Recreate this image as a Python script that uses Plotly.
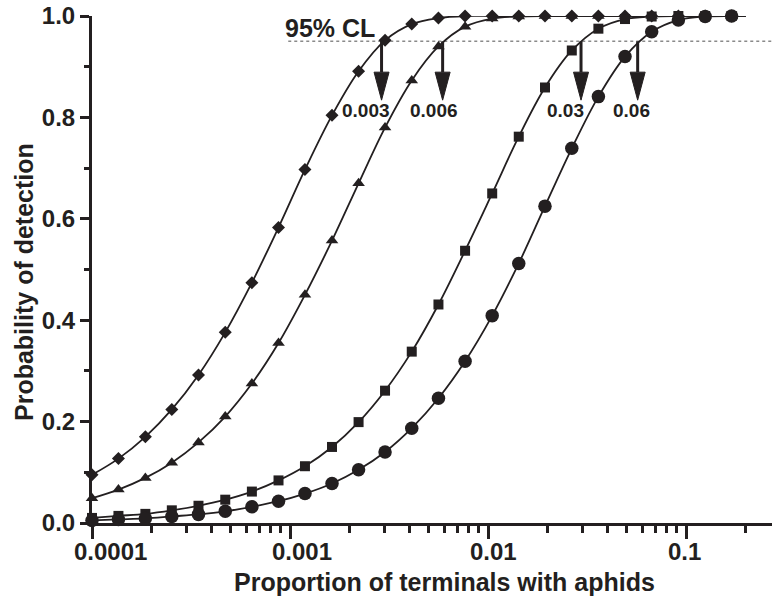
import numpy as np
import plotly.graph_objects as go

# ---------------- data ----------------
x_prop = [0.0001, 0.000136, 0.000186, 0.000253, 0.000345, 0.000471, 0.000642,
          0.000875, 0.00119, 0.00163, 0.00222, 0.00302, 0.00412, 0.00562,
          0.00766, 0.0105, 0.0143, 0.0194, 0.0265, 0.0361, 0.0492, 0.0671,
          0.0915, 0.125, 0.170]

diamond_y = [0.095, 0.127, 0.170, 0.224, 0.292, 0.376, 0.474, 0.583, 0.697,
             0.804, 0.891, 0.952, 0.984, 0.996, 1.0, 1.0, 1.0, 1.0, 1.0, 1.0,
             1.0, 1.0, 1.0, 1.0, 1.0]
triangle_y = [0.049, 0.066, 0.089, 0.119, 0.159, 0.210, 0.275, 0.355, 0.450,
              0.557, 0.670, 0.780, 0.873, 0.940, 0.979, 0.995, 0.999, 1.0, 1.0,
              1.0, 1.0, 1.0, 1.0, 1.0, 1.0]
square_y = [0.010, 0.014, 0.018, 0.025, 0.034, 0.046, 0.062, 0.084, 0.112,
            0.150, 0.199, 0.261, 0.338, 0.431, 0.537, 0.650, 0.762, 0.859,
            0.932, 0.975, 0.994, 0.999, 1.0, 1.0, 1.0]
circle_y = [0.005, 0.007, 0.009, 0.013, 0.017, 0.023, 0.032, 0.043, 0.058,
            0.078, 0.105, 0.140, 0.187, 0.246, 0.319, 0.409, 0.512, 0.625,
            0.739, 0.841, 0.920, 0.969, 0.992, 0.999, 1.0]

curve_end_x = 0.2
curve_end_y = 1.0

cl_level = 0.95
cl_label = "95% CL"
cl_line_start = 0.00098
cl_label_x = 0.00275
cl_label_y = 0.976

arrow_x = [0.0029, 0.0059, 0.0295, 0.057]
arrow_tip_y = 0.834
arrow_labels = ["0.003", "0.006", "0.03", "0.06"]
arrow_label_x = [0.00242, 0.00533, 0.0245, 0.0533]
arrow_label_y = 0.813

x_tick_vals = [0.0001, 0.001, 0.01, 0.1]
x_tick_text = ["0.0001", "0.001", "0.01", "0.1"]
x_minor_vals = [m * d for d in [0.0001, 0.001, 0.01, 0.1] for m in range(2, 10)]

x_title = "Proportion of terminals with aphids"
y_title = "Probability of detection"

# ---------------- layout constants ----------------
W, H = 772, 596
ML, MR, MT, MB = 92, 0, 16, 73
PW, PH = W - ML - MR, H - MT - MB
DEC_PX = 198.0
X_LOG0 = -4.0
X_LOG1 = X_LOG0 + PW / DEC_PX

INK = "#231f20"
FONT = "Liberation Sans, Arial, sans-serif"

fig = go.Figure()

series = [
    (diamond_y, "diamond", 10),
    (triangle_y, "triangle-up", 11),
    (square_y, "square", 10),
    (circle_y, "circle", 13.5),
]

# dotted 95% line
fig.add_trace(go.Scatter(
    x=[cl_line_start, 10 ** X_LOG1], y=[cl_level, cl_level], mode="lines",
    line=dict(color="#8a8a8a", width=1.5, dash="dot"), hoverinfo="skip",
    showlegend=False, cliponaxis=False))

for ys, sym, size in series:
    fig.add_trace(go.Scatter(
        x=x_prop + [curve_end_x], y=ys + [curve_end_y], mode="lines",
        line=dict(color=INK, width=1.8, shape="spline", smoothing=1.0),
        showlegend=False, cliponaxis=False, hoverinfo="skip"))
for ys, sym, size in series:
    fig.add_trace(go.Scatter(
        x=x_prop, y=ys, mode="markers",
        marker=dict(symbol=sym, size=size, color=INK, line=dict(width=0)),
        showlegend=False, cliponaxis=False))

# invisible trace on a linear helper axis (log10 units) for arrow shapes
fig.add_trace(go.Scatter(x=[X_LOG0], y=[0], xaxis="x2", mode="markers",
                         marker=dict(opacity=0), showlegend=False, hoverinfo="skip"))

head_len = 28.0 / PH
head_hw = 7.5 / DEC_PX
shapes = []
for ax in arrow_x:
    lx = np.log10(ax)
    shapes.append(dict(type="line", xref="x2", yref="y", x0=lx, x1=lx,
                       y0=cl_level, y1=arrow_tip_y + head_len,
                       line=dict(color=INK, width=3)))
    shapes.append(dict(type="path", xref="x2", yref="y",
                       path=f"M {lx - head_hw},{arrow_tip_y + head_len} L {lx + head_hw},{arrow_tip_y + head_len} L {lx},{arrow_tip_y} Z",
                       fillcolor=INK, line=dict(color=INK, width=1)))

annotations = []
# x tick labels: decimal-point aligned at the tick (as in the reference)
for tv, tt in zip(x_tick_vals, x_tick_text):
    annotations.append(dict(x=np.log10(tv), y=(H - MB - 551) / PH, xref="x", yref="paper",
                            text=tt, showarrow=False, xanchor="left", yanchor="middle",
                            xshift=-19, borderpad=0,
                            font=dict(family=FONT, size=24, color=INK, weight="bold")))
for lab, lxp in zip(arrow_labels, arrow_label_x):
    annotations.append(dict(x=np.log10(lxp), y=arrow_label_y, xref="x", yref="y",
                            text=lab, showarrow=False, xanchor="center", yanchor="middle",
                            font=dict(family=FONT, size=19, color=INK, weight="bold")))
annotations.append(dict(x=np.log10(cl_label_x), y=cl_label_y, xref="x", yref="y",
                        text=cl_label, showarrow=False, xanchor="right", yanchor="middle",
                        font=dict(family=FONT, size=25, color=INK, weight="bold")))
annotations.append(dict(x=(444.5 - ML) / PW, y=(H - MB - 582) / PH, xref="paper", yref="paper",
                        text=x_title, showarrow=False, xanchor="center", yanchor="middle",
                        font=dict(family=FONT, size=25, color=INK, weight="bold")))
annotations.append(dict(x=(24 - ML) / PW, y=(H - MB - 282) / PH, xref="paper", yref="paper",
                        text=y_title, showarrow=False, xanchor="center", yanchor="middle",
                        textangle=-90,
                        font=dict(family=FONT, size=25, color=INK, weight="bold")))

fig.update_layout(
    width=W, height=H, margin=dict(l=ML, r=MR, t=MT, b=MB, pad=0),
    paper_bgcolor="white", plot_bgcolor="white",
    font=dict(family=FONT, color=INK),
    showlegend=False,
    shapes=shapes, annotations=annotations,
    xaxis=dict(type="log", range=[X_LOG0, X_LOG1], tickvals=x_tick_vals, ticktext=x_tick_text,
               showticklabels=False,
               ticks="outside", ticklen=13, tickwidth=2.5, tickcolor=INK,
               showline=True, linewidth=3, linecolor=INK, showgrid=False, zeroline=False,
               minor=dict(tickvals=x_minor_vals, ticks="outside", ticklen=7, tickwidth=2.5,
                          tickcolor=INK, showgrid=False),
               layer="below traces"),
    xaxis2=dict(overlaying="x", anchor="y", range=[X_LOG0, X_LOG1], visible=False,
                showgrid=False, zeroline=False),
    yaxis=dict(range=[0, 1], tickvals=[0, 0.2, 0.4, 0.6, 0.8, 1.0], tickformat=".1f",
               ticks="outside", ticklen=9, tickwidth=2.5, tickcolor=INK,
               showline=True, linewidth=3, linecolor=INK, showgrid=False, zeroline=False,
               tickfont=dict(family=FONT, size=24, color=INK, weight="bold"),
               minor=dict(tickvals=[0.1, 0.3, 0.5, 0.7, 0.9], ticks="outside", ticklen=5,
                          tickwidth=2.5, tickcolor=INK, showgrid=False),
               layer="below traces"),
)

fig.write_html("out.html", config={"displayModeBar": False},
               post_script="document.body.style.margin='0';document.body.style.padding='0';")
